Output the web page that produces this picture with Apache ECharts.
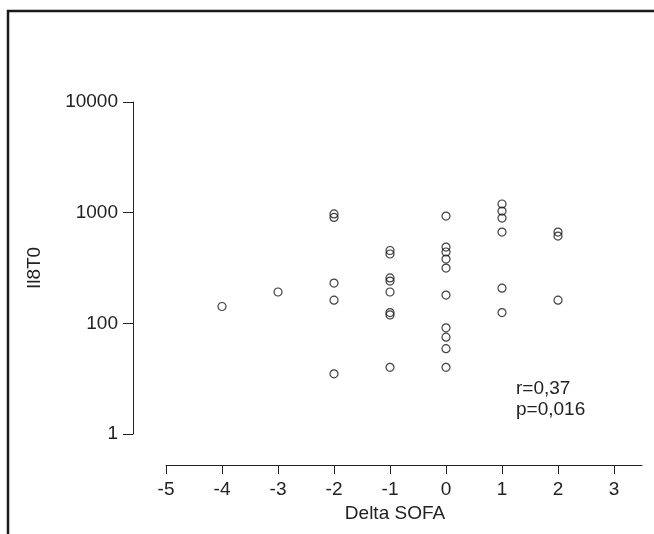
<!DOCTYPE html>
<html>
<head>
<meta charset="utf-8">
<script src="https://cdn.jsdelivr.net/npm/echarts@6/dist/echarts.min.js"></script>
</head>
<body style="margin:0; padding:0; background:#fff;">
<div id="chart" style="width:654px; height:534px;"></div>
<script type="text/javascript">
// Delta SOFA (x) and Il8T0 (y, log scale) for each patient
var deltaSofa = [-4, -3,
	-2, -2, -2, -2, -2,
	-1, -1, -1, -1, -1, -1, -1, -1,
	0, 0, 0, 0, 0, 0, 0, 0, 0, 0,
	1, 1, 1, 1, 1, 1,
	2, 2, 2];
var il8T0 = [142, 192,
	975, 905, 231, 162, 35,
	455, 423, 257, 241, 192, 125, 119, 40,
	932, 489, 441, 381, 316, 180, 91, 75, 59, 40,
	1197, 1034, 894, 668, 208, 125,
	668, 615, 162];

var xTicks = [-5, -4, -3, -2, -1, 0, 1, 2, 3];
var yTickValues = [10, 100, 1000, 10000];
var yTickLabels = ['1', '100', '1000', '10000'];
var statsText = ['r=0,37', 'p=0,016'];

var points = deltaSofa.map(function (x, i) { return [x, il8T0[i]]; });

var font = '"Liberation Sans", Arial, sans-serif';
var ink = '#222';

var option = {
	animation: false,
	grid: { left: 166, right: 12, top: 102, bottom: 100 },
	xAxis: {
		type: 'value',
		min: -5,
		max: 3.5,
		interval: 1,
		offset: 31,
		splitLine: { show: false },
		axisLine: { onZero: false, lineStyle: { color: ink, width: 1 } },
		axisTick: { length: 9, customValues: xTicks, lineStyle: { color: ink } },
		axisLabel: { customValues: xTicks, margin: 15, color: ink, fontSize: 19, fontFamily: font },
		name: 'Delta SOFA',
		nameLocation: 'middle',
		nameGap: 39,
		nameTextStyle: { color: ink, fontSize: 19, fontFamily: font, padding: [0, 18, 0, 0] }
	},
	yAxis: {
		type: 'log',
		logBase: 10,
		min: 10,
		max: 10000,
		offset: 33,
		splitLine: { show: false },
		axisLine: { show: true, onZero: false, lineStyle: { color: ink, width: 1 } },
		axisTick: { show: true, length: 10, customValues: yTickValues, lineStyle: { color: ink } },
		axisLabel: {
			customValues: yTickValues,
			margin: 15, color: ink, fontSize: 19, fontFamily: font,
			formatter: function (v) {
				var i = yTickValues.indexOf(Math.round(v));
				return i >= 0 ? yTickLabels[i] : '';
			}
		},
		name: 'Il8T0',
		nameLocation: 'middle',
		nameGap: 89,
		nameTextStyle: { color: ink, fontSize: 19, fontFamily: font }
	},
	series: [{
		type: 'scatter',
		data: points,
		symbol: 'circle',
		symbolSize: 8,
		itemStyle: { color: 'rgba(0,0,0,0)', borderColor: '#111', borderWidth: 1.2 },
		emphasis: { disabled: true }
	}],
	graphic: [
		{
			type: 'rect',
			shape: { x: 8, y: 11, width: 700, height: 600 },
			style: { fill: 'none', stroke: '#1a1a1a', lineWidth: 2.5 },
			silent: true
		},
		{
			type: 'text',
			left: 516,
			top: 378,
			style: { text: statsText.join('\n'), fill: ink, fontSize: 19, lineHeight: 21, fontFamily: font }
		}
	]
};

var myChart = echarts.init(document.getElementById('chart'));
myChart.setOption(option);
</script>
</body>
</html>
